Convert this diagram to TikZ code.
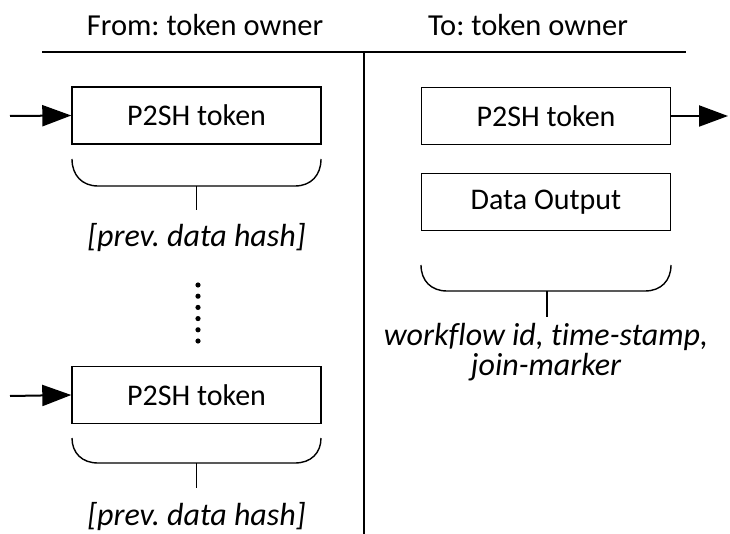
\documentclass[tikz,border=0pt]{standalone}
\usepackage{fontspec}
\setmainfont{Carlito}[Ligatures={NoCommon}]
\frenchspacing
\usetikzlibrary{arrows.meta}
\begin{document}
\begin{tikzpicture}[x=1pt,y=-1pt,
  every node/.style={font=\fontsize{30}{31}\selectfont, inner sep=0pt},
  hdr/.style={font=\fontsize{30.5}{31}\selectfont, anchor=base},
  tokbox/.style={draw, line width=1.4pt, minimum width=249pt, minimum height=57pt},
  arr/.style={line width=2pt, -{Triangle[length=29pt,width=21pt]}},
  brc/.style={line width=1.4pt},
  rule/.style={line width=2.2pt},
  lbl/.style={font=\fontsize{32}{33}\selectfont\itshape, anchor=base}]
\useasboundingbox (0,0) rectangle (730,534);

% column headers and separators
\node[hdr] (hfrom) at (205,36) {From: token owner};
\node[hdr] (hto) at (528,36) {To: token owner};
\coordinate (hl) at (42,52);
\coordinate (hr) at (686,52);
\coordinate (vt) at (364,52);
\coordinate (vb) at (364,534);
\draw[rule] (hl) -- (hr);
\draw[line width=2pt] (vt) -- (vb);

% brace under a group of boxes: left x, right x, top y, depth
\newcommand{\groupbrace}[4]{%
  \draw[brc] (#1,#3) .. controls (#1,#3+0.6*#4) and (#1+10,#3+#4) .. (#1+26,#3+#4)
    -- (#2-26,#3+#4) .. controls (#2-10,#3+#4) and (#2,#3+0.6*#4) .. (#2,#3);}

% ---- left column: inputs ----
\node[tokbox] (in1) at (196.5,115.5) {P2SH token};
\coordinate (src1) at (10,116);
\draw[arr] (src1) -- (in1.west);
\groupbrace{72}{321}{159}{27}
\coordinate (b1) at (196.5,186);
\coordinate (s1) at (196.5,210);
\draw[brc] (b1) -- (s1);
\node[lbl] (h1) at (196.5,247) {[prev. data hash]};

% vertical ellipsis
\foreach \k in {0,...,5}
  \fill (198,285+\k*11.2) circle (2.6pt);

\node[tokbox] (in2) at (196.5,395) {P2SH token};
\coordinate (src2) at (10,396);
\draw[arr] (src2) -- (in2.west);
\groupbrace{72}{321}{438}{25}
\coordinate (b2) at (196.5,463);
\coordinate (s2) at (196.5,488);
\draw[brc] (b2) -- (s2);
\node[lbl] (h2) at (196.5,525) {[prev. data hash]};

% ---- right column: outputs ----
\node[tokbox] (out1) at (546,116) {P2SH token};
\coordinate (dst1) at (728,116);
\draw[arr] (out1.east) -- (dst1);
\node[tokbox] (dout) at (546,202) {Data Output};
\groupbrace{421}{671}{265}{26}
\coordinate (b3) at (547,291);
\coordinate (s3) at (547,317);
\draw[brc] (b3) -- (s3);
\node[lbl] (m1) at (546,345) {workflow id, time-stamp,};
\node[lbl] (m2) at (546,375) {join-marker};
\end{tikzpicture}
\end{document}
